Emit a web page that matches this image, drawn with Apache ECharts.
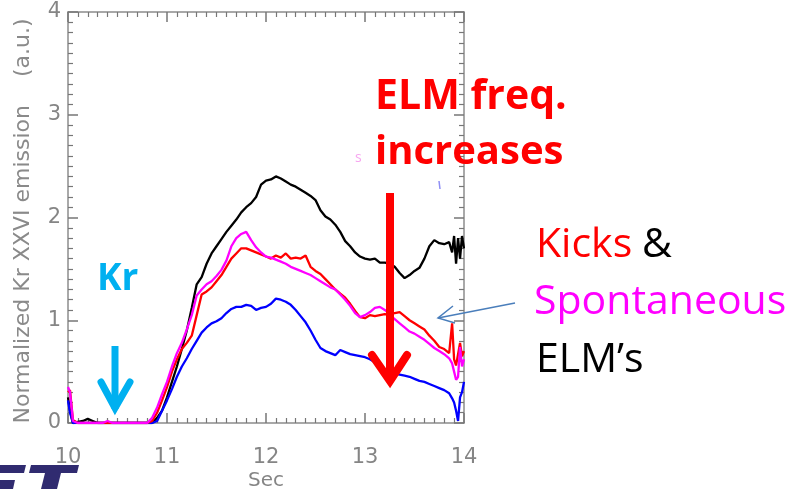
<!DOCTYPE html>
<html>
<head>
<meta charset="utf-8">
<script src="https://cdn.jsdelivr.net/npm/echarts@6/dist/echarts.min.js"></script>
<style>
html,body{margin:0;padding:0;background:#fff;}
#wrap{position:relative;width:790px;height:489px;}
.layer{position:absolute;left:0;top:0;width:790px;height:489px;}
</style>
</head>
<body>
<div id="wrap">
  <div id="axesLayer" class="layer"></div>
  <div id="lineLayer" class="layer"></div>
  <div id="noteLayer" class="layer"></div>
</div>
<script>
const sec = [
10.00,10.02,10.05,10.10,10.15,10.20,10.25,10.30,10.35,10.40,
10.45,10.50,10.55,10.60,10.65,10.70,10.75,10.80,10.85,10.90,
10.95,11.00,11.05,11.10,11.15,11.20,11.25,11.30,11.35,11.40,
11.45,11.50,11.55,11.60,11.65,11.70,11.75,11.80,11.85,11.90,
11.95,12.00,12.05,12.10,12.15,12.20,12.25,12.30,12.35,12.40,
12.45,12.50,12.55,12.60,12.65,12.70,12.75,12.80,12.85,12.90,
12.95,13.00,13.05,13.10,13.15,13.20,13.25,13.30,13.35,13.40,
13.45,13.50,13.55,13.60,13.65,13.70,13.75,13.80,13.85,13.88,
13.90,13.92,13.94,13.96,13.98,14.00];
const blackV = [
0.25,0.12,0.00,0.01,0.02,0.04,0.02,0.00,0.00,0.00,
0.00,0.00,0.00,0.00,0.00,0.00,0.00,0.00,0.00,0.05,
0.12,0.25,0.40,0.55,0.72,0.90,1.12,1.35,1.42,1.55,
1.65,1.72,1.79,1.86,1.92,1.98,2.05,2.10,2.14,2.20,
2.32,2.36,2.37,2.40,2.38,2.35,2.32,2.30,2.27,2.24,
2.21,2.17,2.07,2.01,1.98,1.93,1.86,1.77,1.72,1.66,
1.62,1.60,1.59,1.60,1.56,1.56,1.55,1.52,1.46,1.41,
1.44,1.48,1.51,1.60,1.72,1.78,1.75,1.74,1.76,1.66,
1.82,1.55,1.80,1.60,1.82,1.70];
const magentaV = [
0.35,0.30,0.02,0.00,0.00,0.00,0.00,0.00,0.00,0.02,
0.00,0.00,0.00,0.00,0.00,0.00,0.00,0.00,0.05,0.15,
0.28,0.40,0.55,0.68,0.78,0.91,1.05,1.24,1.30,1.35,
1.38,1.43,1.49,1.58,1.72,1.80,1.84,1.86,1.78,1.71,
1.66,1.62,1.61,1.59,1.57,1.55,1.52,1.50,1.48,1.46,
1.44,1.41,1.38,1.35,1.32,1.30,1.25,1.20,1.14,1.07,
1.03,1.05,1.08,1.12,1.13,1.10,1.06,1.01,0.97,0.93,
0.89,0.87,0.84,0.81,0.77,0.73,0.70,0.67,0.63,0.58,
0.50,0.42,0.45,0.74,0.55,0.62];
const redV = [
0.30,0.32,0.03,0.00,0.00,0.00,0.00,0.00,0.00,0.00,
0.00,0.00,0.00,0.00,0.00,0.00,0.00,0.00,0.02,0.10,
0.22,0.35,0.50,0.62,0.72,0.78,0.85,1.05,1.25,1.28,
1.32,1.38,1.44,1.52,1.60,1.65,1.70,1.70,1.68,1.66,
1.64,1.62,1.60,1.63,1.61,1.65,1.60,1.61,1.60,1.63,
1.52,1.48,1.45,1.40,1.35,1.30,1.26,1.22,1.16,1.09,
1.03,1.02,1.05,1.04,1.05,1.06,1.05,1.07,1.08,1.04,
1.00,0.97,0.94,0.91,0.85,0.80,0.74,0.72,0.68,0.97,
0.62,0.56,0.55,0.78,0.65,0.70];
const blueV = [
0.22,0.10,0.00,0.00,0.00,0.00,0.00,0.00,0.00,0.00,
0.00,0.00,0.00,0.00,0.00,0.00,0.00,0.00,0.00,0.02,
0.12,0.22,0.33,0.45,0.55,0.63,0.72,0.80,0.88,0.93,
0.97,0.99,1.02,1.07,1.11,1.13,1.13,1.15,1.14,1.10,
1.12,1.13,1.16,1.21,1.20,1.18,1.15,1.10,1.04,0.98,
0.90,0.81,0.73,0.70,0.68,0.66,0.71,0.69,0.67,0.66,
0.65,0.64,0.62,0.59,0.55,0.52,0.50,0.48,0.47,0.46,
0.45,0.43,0.41,0.40,0.38,0.36,0.34,0.32,0.29,0.24,
0.20,0.12,0.02,0.25,0.30,0.40];
const xTicks = [10, 11, 12, 13, 14];
const yTicks = [0, 1, 2, 3, 4];

const labFont = 'DejaVu Sans';
const axCol = '#777777';
const gridBox = {left: 68, right: 326, top: 12, bottom: 66, outerBoundsMode: 'none'};
const pair = arr => sec.map((t, i) => [t, arr[i]]);

// Layer 1: frame, ticks and tick labels
function mkAxis(pos, isX, showLabel) {
  return {
    type: 'value', position: pos,
    min: isX ? xTicks[0] : yTicks[0],
    max: isX ? xTicks[xTicks.length - 1] : yTicks[yTicks.length - 1],
    interval: 1,
    axisLine: {show: true, onZero: false, lineStyle: {color: '#8c8c8c', width: 1.5}},
    axisTick: {show: true, inside: true, length: 10, lineStyle: {color: axCol, width: 1.5}},
    minorTick: {show: true, splitNumber: 10, length: 5, lineStyle: {color: axCol, width: 1.2}},
    splitLine: {show: false},
    axisLabel: {show: true, color: showLabel ? '#858585' : 'rgba(255,255,255,0)', fontFamily: labFont, fontSize: 21, margin: isX ? 24 : 7}
  };
}
const axesChart = echarts.init(document.getElementById('axesLayer'));
axesChart.setOption({
  animation: false,
  backgroundColor: '#fff',
  grid: gridBox,
  xAxis: [mkAxis('bottom', true, true), mkAxis('top', true, false)],
  yAxis: [mkAxis('left', false, true), mkAxis('right', false, false)],
  series: [{type: 'line', data: [], showSymbol: false}]
});

// Layer 2: the four traces on the same scales
const hiddenAxis = (isX) => ({
  type: 'value', show: false,
  min: isX ? xTicks[0] : yTicks[0],
  max: isX ? xTicks[xTicks.length - 1] : yTicks[yTicks.length - 1],
  interval: 1, splitLine: {show: false}
});
const lineS = (name, color, arr) => ({
  name, type: 'line', data: pair(arr), showSymbol: false, symbol: 'none',
  lineStyle: {color, width: 2.3}
});
const lineChart = echarts.init(document.getElementById('lineLayer'));
lineChart.setOption({
  animation: false,
  backgroundColor: 'transparent',
  grid: gridBox,
  xAxis: hiddenAxis(true),
  yAxis: hiddenAxis(false),
  series: [
    lineS('black', '#000000', blackV),
    lineS('blue', '#0000ff', blueV),
    lineS('red', '#ff0000', redV),
    lineS('magenta', '#ff00ff', magentaV)
  ]
});

// Layer 3: titles and annotations
const txt = (x, y, text, color, size, weight) => ({
  type: 'text', x, y, z: 100,
  style: {text, fill: color, font: (weight || 'normal') + ' ' + size + 'px "Open Sans"', textVerticalAlign: 'middle', textAlign: 'left'}
});
const noteChart = echarts.init(document.getElementById('noteLayer'));
noteChart.setOption({
  animation: false,
  backgroundColor: 'transparent',
  graphic: [
    {type: 'text', x: 266, y: 481, z: 100,
     style: {text: 'Sec', fill: '#858585', font: '20px "DejaVu Sans"', textAlign: 'center', textVerticalAlign: 'middle'}},
    {type: 'text', x: 23, y: 221, rotation: Math.PI / 2, z: 100,
     style: {text: 'Normalized Kr XXVI emission    (a.u.)', fill: '#8a8a8a', font: '22px "DejaVu Sans"', textAlign: 'center', textVerticalAlign: 'middle'}},
    txt(97, 279, 'Kr', '#00b0f0', 37, 'bold'),
    {type: 'polyline', z: 100, shape: {points: [[115, 346], [115, 409]]}, style: {stroke: '#00b0f0', lineWidth: 7, fill: null}},
    {type: 'polyline', z: 100, shape: {points: [[101, 382], [115, 408], [130, 382]]}, style: {stroke: '#00b0f0', lineWidth: 7, fill: null, lineJoin: 'miter', lineCap: 'round'}},
    txt(375, 97, 'ELM freq.', '#ff0000', 41, 'bold'),
    txt(375, 153, 'increases', '#ff0000', 40, 'bold'),
    {type: 'polyline', z: 100, shape: {points: [[390, 193], [390, 382]]}, style: {stroke: '#ff0000', lineWidth: 8, fill: null}},
    {type: 'polyline', z: 100, shape: {points: [[372, 355], [390, 381], [407, 355]]}, style: {stroke: '#ff0000', lineWidth: 8, fill: null, lineJoin: 'miter', lineCap: 'round'}},
    txt(536, 245, 'Kicks', '#ff0000', 41),
    txt(642, 245, '&', '#000000', 41),
    txt(534, 302, 'Spontaneous', '#ff00ff', 41),
    txt(536, 360, 'ELM\u2019s', '#000000', 41),
    {type: 'polyline', z: 100, shape: {points: [[515, 303], [438, 318]]}, style: {stroke: '#4a7ebb', lineWidth: 1.5, fill: null}},
    {type: 'polyline', z: 100, shape: {points: [[453, 306], [438, 318], [455, 323]]}, style: {stroke: '#4a7ebb', lineWidth: 1.5, fill: null}},
    {type: 'text', x: 355, y: 158, z: 100, style: {text: 's', fill: '#f7a6f0', font: '14px "Open Sans"', textVerticalAlign: 'middle'}},
    {type: 'polyline', z: 100, shape: {points: [[439, 181], [440, 189]]}, style: {stroke: '#8f8ff5', lineWidth: 1.5}},
    {type: 'polygon', z: 100, shape: {points: [[0, 465], [26, 465], [24, 473], [0, 473]]}, style: {fill: '#302b70'}},
    {type: 'polygon', z: 100, shape: {points: [[0, 480], [15, 480], [13, 489], [0, 489]]}, style: {fill: '#302b70'}},
    {type: 'polygon', z: 100, shape: {points: [[31, 465], [79, 465], [77, 473], [29, 473]]}, style: {fill: '#302b70'}},
    {type: 'polygon', z: 100, shape: {points: [[45, 473], [61, 473], [57, 489], [41, 489]]}, style: {fill: '#302b70'}}
  ]
});
</script>
</body>
</html>
